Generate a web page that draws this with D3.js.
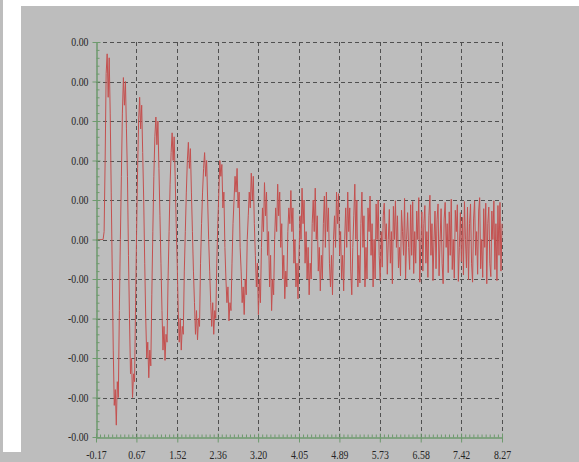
<!DOCTYPE html>
<html>
<head>
<meta charset="utf-8">
<script src="https://cdn.jsdelivr.net/npm/d3@7"></script>
<style>
  html, body { margin: 0; padding: 0; background: #bdbdbd; }
  svg { display: block; }
</style>
</head>
<body>
<svg id="chart"></svg>
<script>
// damped oscillation trace, sampled at a fixed step (values in units of 1e-4)
const sampleStart = -0.17
const sampleStep = 0.0211
const signal = [
  0, 0, 0, 0, 0, 0, 0, 0, 1, 10,
  21, 23.5, 18, 23, 16, 6, -4, -14, -21, -19,
  -23.5, -18, -20, -9, 0, 8, 16, 20.5, 17, 20,
  14, 8, -2, -10, -17, -15, -20, -17, -18, -8,
  1, 9, 15, 18, 14, 17, 11, 5, -3, -10,
  -15, -13, -17.5, -14, -16, -7, 1, 8, 13, 15.5,
  12, 15, 9, 3, -3, -9, -14, -11, -15.3, -12,
  -13, -5, 1, 7, 11, 13.5, 10, 13, 8, 2,
  -3, -9, -13, -10, -14, -11, -12, -4, 1, 6,
  10, 12.3, 9, 11.5, 6, 1, -4, -8, -12, -9,
  -12.7, -10, -11, -3, 2, 6, 9, 11, 8, 10,
  5, 0, -4, -8, -11, -8, -12, -9, -10, -3,
  2, 6, 10, 8, 9.5, 4, 6, -1, -5, -8,
  -6, -10.3, -8, -9, -3, 2, 5, 8, 6, 9,
  4, 6, -1, -4, -8, -6, -9.5, -5, -7, 0,
  3, 6, 4, 8.4, 5, 8, 2, -2, -6, -3,
  -9.5, -5, -8, -1, 4, 1, 7.2, 3, 6, -2,
  1, -6, -2, -9, -5, -7, 0, 4, 1, 7,
  3, 6, -1, 2, -5, -2, -7.5, -4, -6, 1,
  4, 2, 6.2, 1, 4, -3, 0, -6, -3, -7.5,
  -2, 3, 0, 6.5, 2, 5, -3, 1, -5, -1,
  -7, -3, -5, 2, 5, 1, 6.5, 0, 3, -4,
  -1, -6.5, -2, -5, 2, 5.5, -1, 6, 1, 4,
  -3, -6, -2, -7, 0, 3, -1, 6, 2, 5.8,
  -2, 1, -5, -2, -6.5, 0, 4, -1, 6, 1,
  4, -4, -7, -1, 3, 7, 0, 5, -6, -2,
  -5.5, 2, 6, -1, 3, -6, -1, -5, 4, 1,
  5.5, -2, 2, -6, 0, -5, 4.5, 0, 5, -2,
  -5.2, 1, -3.5, 3, 4.6, 0, 2, -4.4, 0, 3.8,
  -3, 1, -5.6, 4.2, 0, 4.9, -1, 3, -3.6, -1,
  -4.6, 3.7, 1, -2, 5.2, -5, 0, 3.4, -1, -3.8,
  4.4, -2, 4.8, -4.3, 1, -3, 3.6, 0, 5.3, -5.4,
  -1, 3.5, -4, 2, 4.3, -3, 1, -4.8, 3, 5.6,
  -2, 2, -5.2, 0, 3.6, -3.7, 2.5, 4.5, -4.6, 0,
  3.9, -3, -5.6, 2.6, 4.7, -1, 2, -4.2, 3.5, -2,
  5.1, -3.8, 0, -4.9, 3.7, 1, 4.4, -5.3, -1, 3.4,
  -2.8, 2.8, -4.5, 4.8, 0, -3.6, 4.1, -5.1, 2, 4.5,
  -3, -5.4, 2.6, 4.9, -2, 1, -4.4, 3.6, 5.3, -3.7,
  0, -4.8, 3.9, -1, 4.6, -5.6, 2, 4.1, -3, -4.7,
  3.6, 0, 4.9, -3.8, 2, -5.2, 4.3, -2, 4.7, -4,
  2
]

const xTicks = [-0.17, 0.67, 1.52, 2.36, 3.20, 4.05, 4.89, 5.73, 6.58, 7.42, 8.27]
const yTicks = [-25, -20, -15, -10, -5, 0, 5, 10, 15, 20, 25]
const yUnit = 1e-4

const width = 579
const height = 462
const margin = { left: 96, right: 77, top: 42, bottom: 25 }
const textScale = 0.82

const svg = d3.select('#chart').attr('width', width).attr('height', height)

// frame pieces around the plot
svg.append('rect').attr('x', 0).attr('y', 0).attr('width', width).attr('height', height).attr('fill', '#bdbdbd')
svg.append('rect').attr('x', 3).attr('y', 0).attr('width', 18).attr('height', 452).attr('fill', '#ffffff')
svg.append('rect').attr('x', 21).attr('y', 0).attr('width', width - 21).attr('height', 6).attr('fill', '#ffffff')

const x = d3.scaleLinear()
  .domain([xTicks[0], xTicks[xTicks.length - 1]])
  .range([margin.left, width - margin.right])
const y = d3.scaleLinear()
  .domain([yTicks[0], yTicks[yTicks.length - 1]])
  .range([height - margin.bottom, margin.top])

// Grid
const grid = svg.append('g')
  .attr('stroke', '#505050')
  .attr('stroke-width', 1)
  .attr('stroke-dasharray', '4,3')
grid.selectAll('line.v')
  .data(xTicks.slice(1))
  .join('line')
  .attr('class', 'v')
  .attr('x1', d => Math.round(x(d)) + 0.5)
  .attr('x2', d => Math.round(x(d)) + 0.5)
  .attr('y1', y.range()[1])
  .attr('y2', y.range()[0])
grid.selectAll('line.h')
  .data(yTicks.slice(1))
  .join('line')
  .attr('class', 'h')
  .attr('y1', d => Math.round(y(d)) + 0.5)
  .attr('y2', d => Math.round(y(d)) + 0.5)
  .attr('x1', x.range()[0])
  .attr('x2', x.range()[1])

// Signal
const line = d3.line()
  .x((d, i) => x(sampleStart + i * sampleStep))
  .y(d => y(d))
svg.append('path')
  .datum(signal)
  .attr('fill', 'none')
  .attr('stroke', '#c4504f')
  .attr('stroke-width', 1)
  .attr('stroke-linejoin', 'round')
  .attr('d', line)

// Axes
const axisColor = '#6e9a6e'
const x0 = Math.round(x.range()[0]) + 0.5
const y0 = Math.round(y.range()[0]) + 0.5

function minorValues(ticks, parts) {
  const out = []
  for (let i = 0; i < ticks.length - 1; i++) {
    const step = (ticks[i + 1] - ticks[i]) / parts
    for (let k = 1; k < parts; k++) out.push(ticks[i] + k * step)
  }
  return out
}

// minor ticks
svg.append('g')
  .attr('transform', `translate(0,${y0})`)
  .call(d3.axisTop(x).tickValues(minorValues(xTicks, 10)).tickSize(3).tickSizeOuter(0).tickFormat(''))
  .call(g => g.select('.domain').remove())
  .call(g => g.selectAll('line').attr('stroke', axisColor))
svg.append('g')
  .attr('transform', `translate(${x0},0)`)
  .call(d3.axisRight(y).tickValues(minorValues(yTicks, 5)).tickSize(3).tickSizeOuter(0).tickFormat(''))
  .call(g => g.select('.domain').remove())
  .call(g => g.selectAll('line').attr('stroke', axisColor))

// major ticks + labels
const xAxis = svg.append('g')
  .attr('transform', `translate(0,${y0})`)
  .call(d3.axisBottom(x).tickValues(xTicks).tickSizeOuter(0).tickFormat(d => d.toFixed(2)))
xAxis.select('.domain').attr('stroke', axisColor).attr('stroke-width', 1.5)
xAxis.selectAll('.tick line').attr('stroke', axisColor).attr('y1', -4).attr('y2', 5)
xAxis.selectAll('.tick text')
  .attr('fill', '#262626')
  .attr('font-family', '"Liberation Serif", serif')
  .attr('font-size', 12)
  .attr('y', 22)
  .attr('dy', 0)
  .attr('transform', `scale(${textScale},1)`)

const yAxis = svg.append('g')
  .attr('transform', `translate(${x0},0)`)
  .call(d3.axisLeft(y).tickValues(yTicks).tickSizeOuter(0).tickFormat(d => (d * yUnit).toFixed(2)))
yAxis.select('.domain').attr('stroke', axisColor).attr('stroke-width', 1.5)
yAxis.selectAll('.tick line').attr('stroke', axisColor).attr('x1', -4).attr('x2', 4)
yAxis.selectAll('.tick text')
  .attr('fill', '#262626')
  .attr('font-family', '"Liberation Serif", serif')
  .attr('font-size', 12)
  .attr('x', -8 / textScale)
  .attr('transform', `scale(${textScale},1)`)
</script>
</body>
</html>
